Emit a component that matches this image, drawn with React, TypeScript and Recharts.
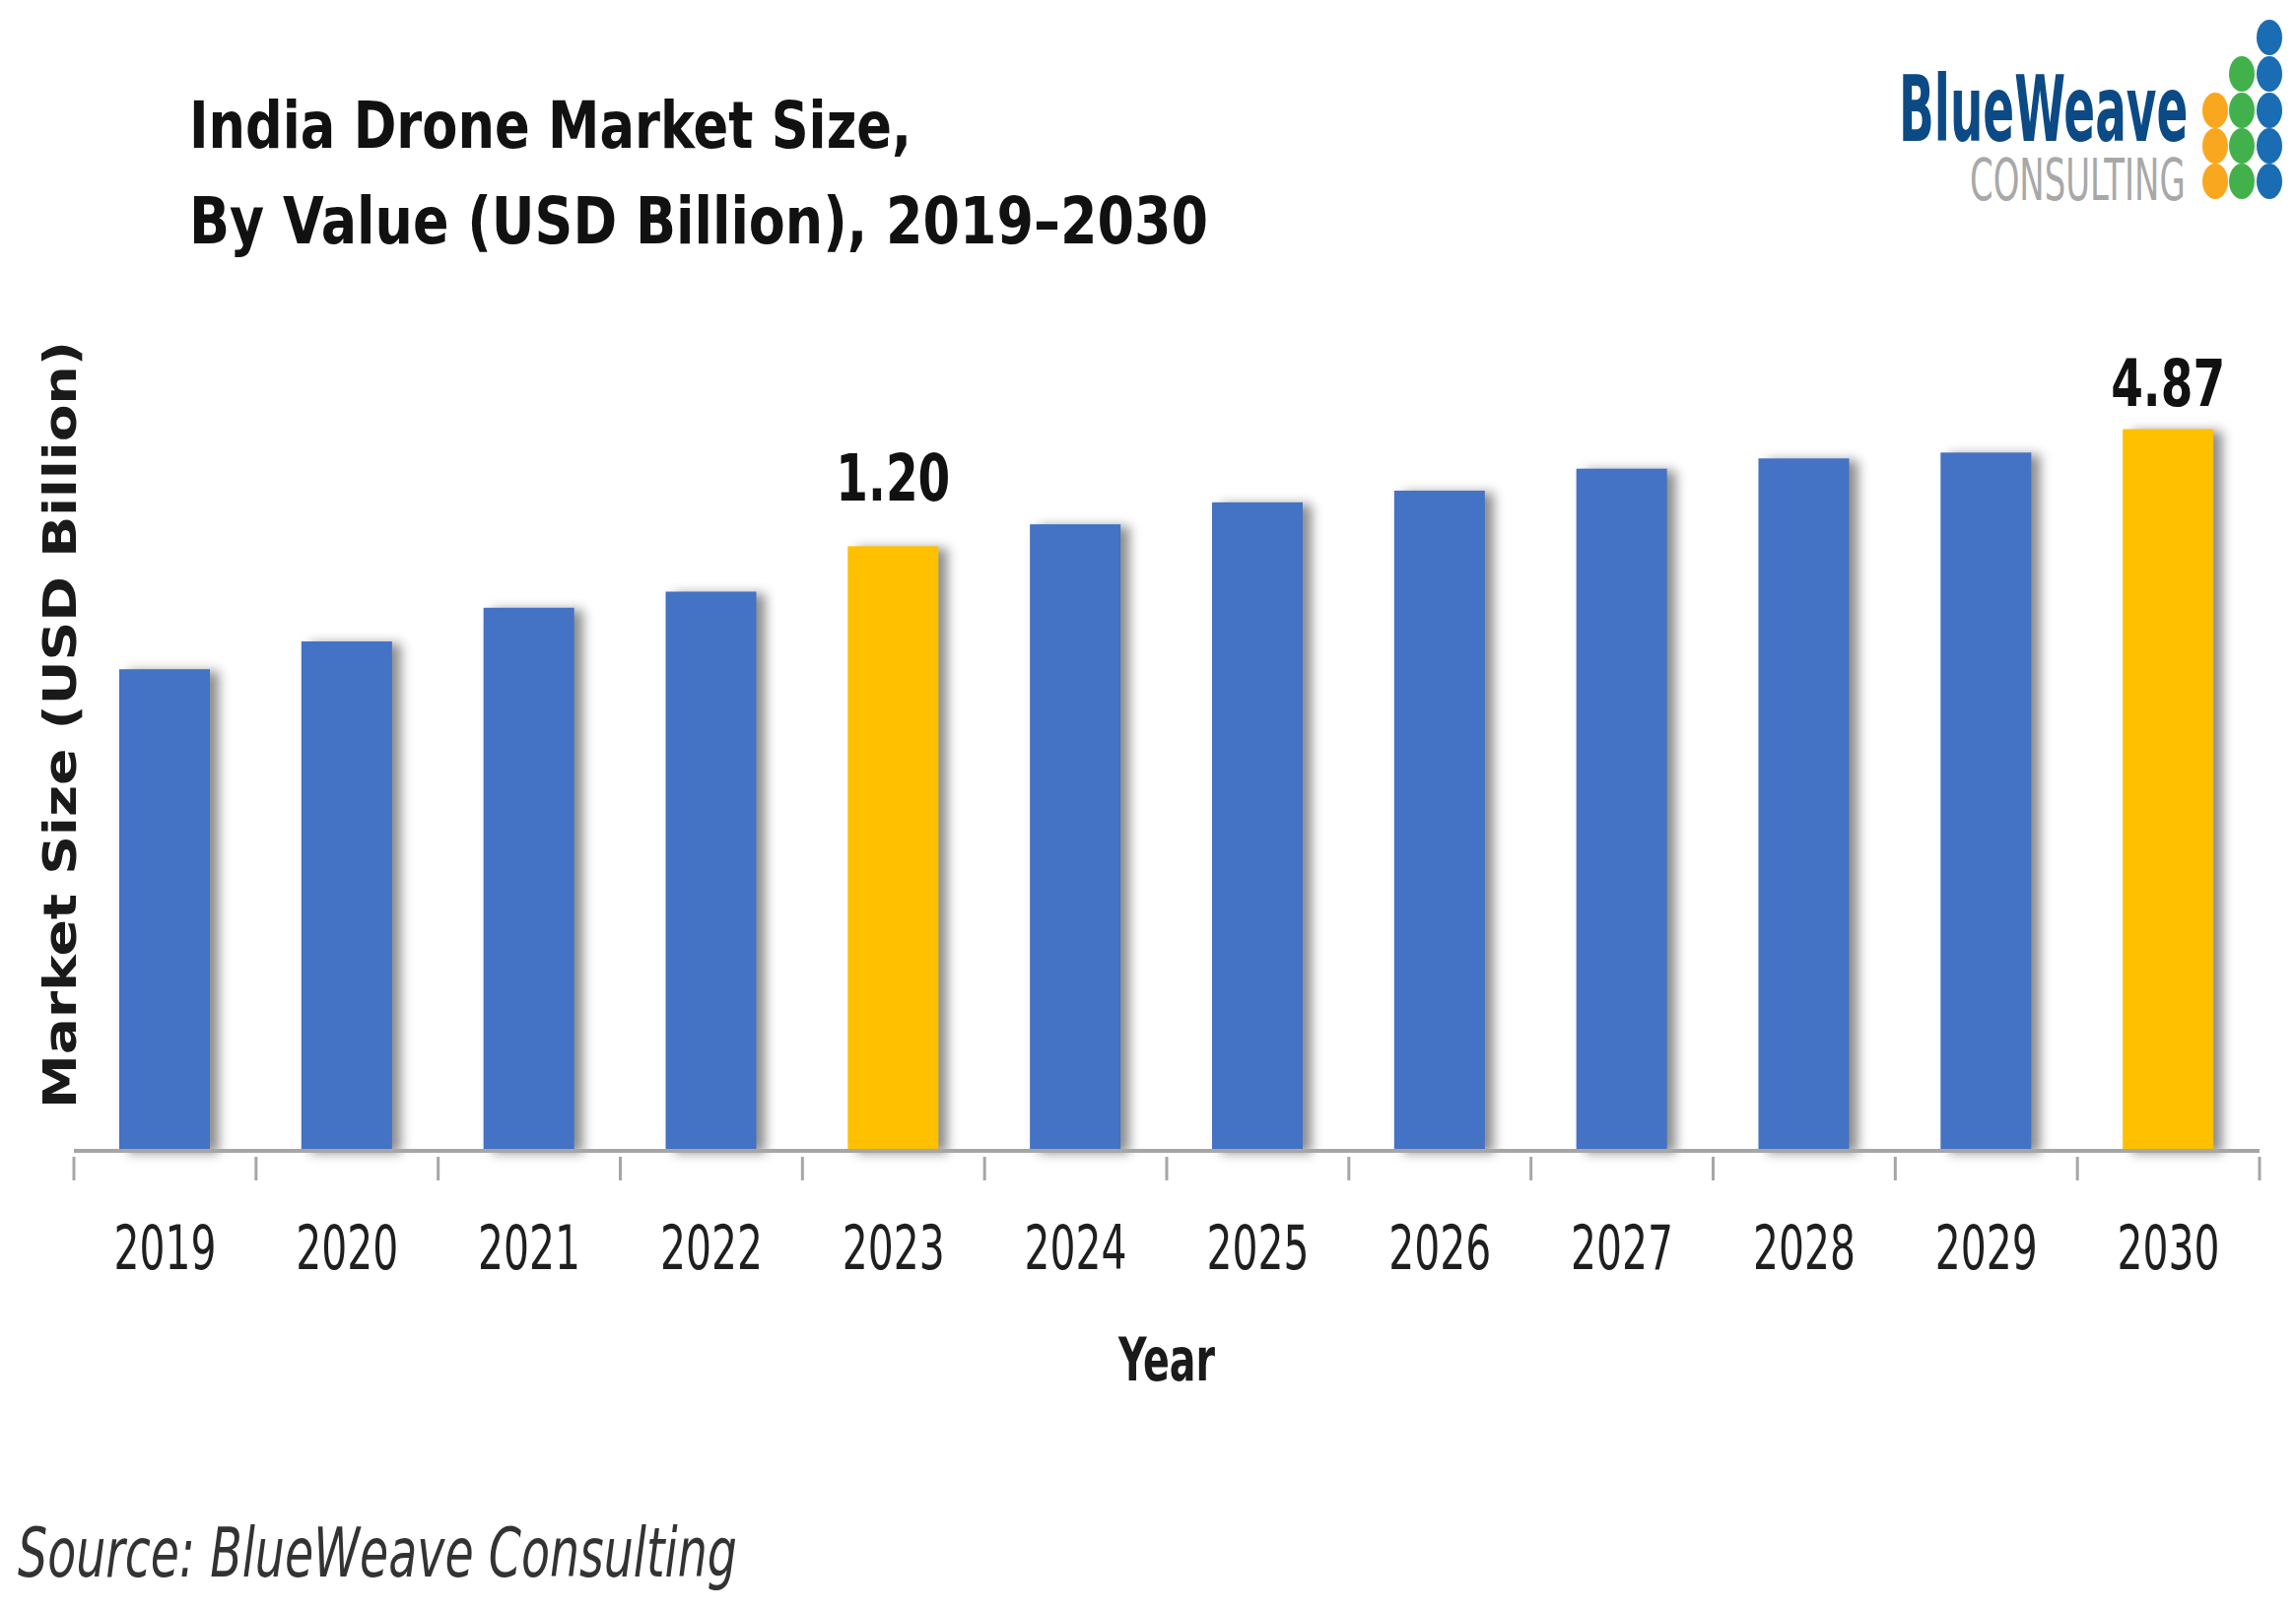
import React from 'react';
import { BarChart, Bar, XAxis, YAxis, LabelList } from 'recharts';

// The bars in the source are not drawn to the scale of their two printed labels,
// so the plotted levels are read from the drawn bar heights and the labels are kept apart.
const years = ['2019', '2020', '2021', '2022', '2023', '2024', '2025', '2026', '2027', '2028', '2029', '2030'];
const drawnLevels = [329, 348, 371, 382, 413, 428, 443, 451, 466, 473, 477, 493];
const printedLabels = ['', '', '', '', '1.20', '', '', '', '', '', '', '4.87'];
const highlightedYears = ['2023', '2030'];

const titleLines = ['India Drone Market Size,', 'By Value (USD Billion), 2019–2030'];
const yTitle = 'Market Size (USD Billion)';
const xTitle = 'Year';
const sourceText = 'Source: BlueWeave Consulting';
const logoName = 'BlueWeave';
const logoSub = 'CONSULTING';

const rows = years.map((year, i) => ({ year, level: drawnLevels[i], label: printedLabels[i] }));

const FONT = '"DejaVu Sans", sans-serif';
const BLUE = '#4472C4';
const GOLD = '#FFC000';
const AXIS = '#A6A6A6';
const PLOT_LEFT = 75;
const PLOT_RIGHT = 2293;
const SLOT = (PLOT_RIGHT - PLOT_LEFT) / years.length;
const LABEL_LIFT: Record<string, number> = { '1.20': 46, '4.87': 24 };

const BarShape = (p: any) => (
  <rect
    x={p.x}
    y={p.y}
    width={p.width}
    height={p.height}
    fill={highlightedYears.includes(p.year) ? GOLD : BLUE}
    style={{ filter: 'drop-shadow(9px 2px 6px rgba(0,0,0,0.45))' }}
  />
);

const YearTick = (p: any) => {
  const { x, y, index, payload } = p;
  const tickTop = y - 8;
  return (
    <g>
      <line x1={x - SLOT / 2} x2={x - SLOT / 2} y1={tickTop} y2={tickTop + 24} stroke={AXIS} strokeWidth={3} />
      {index === years.length - 1 && (
        <line x1={x + SLOT / 2} x2={x + SLOT / 2} y1={tickTop} y2={tickTop + 24} stroke={AXIS} strokeWidth={3} />
      )}
      <text
        x={x}
        y={1288}
        textAnchor="middle"
        fontFamily={FONT}
        fontSize={62}
        fill="#1f1f1f"
        textLength={104}
        lengthAdjust="spacingAndGlyphs"
      >
        {payload.value}
      </text>
    </g>
  );
};

const ValueLabel = (p: any) => {
  const { x, y, width, value } = p;
  if (!value) return null;
  return (
    <text
      x={x + width / 2}
      y={y - LABEL_LIFT[value]}
      textAnchor="middle"
      fontFamily={FONT}
      fontWeight={700}
      fontSize={66}
      fill="#111"
      textLength={116}
      lengthAdjust="spacingAndGlyphs"
    >
      {value}
    </text>
  );
};

const dotColumns = [
  { x: 2248, ys: [112, 148, 184], fill: '#F9A71E' },
  { x: 2275, ys: [75, 112, 148, 184], fill: '#43B14B' },
  { x: 2303, ys: [38, 75, 112, 148, 184], fill: '#1B6DB3' },
];

const Overlay = () => (
  <svg width={2330} height={1635} style={{ position: 'absolute', left: 0, top: 0, pointerEvents: 'none' }}>
    <g fontFamily={FONT} fontWeight={700} fontSize={66} fill="#111">
      <text x={192} y={150} textLength={733} lengthAdjust="spacingAndGlyphs">{titleLines[0]}</text>
      <text x={192} y={247} textLength={1034} lengthAdjust="spacingAndGlyphs">{titleLines[1]}</text>
    </g>
    <text
      transform="translate(77,1125) rotate(-90)"
      fontFamily={FONT}
      fontWeight={700}
      fontSize={46}
      fill="#1a1a1a"
      textLength={779}
      lengthAdjust="spacingAndGlyphs"
    >
      {yTitle}
    </text>
    <text x={1135} y={1401} fontFamily={FONT} fontWeight={700} fontSize={60} fill="#1a1a1a" textLength={98} lengthAdjust="spacingAndGlyphs">
      {xTitle}
    </text>
    <text x={18} y={1600} fontFamily={FONT} fontStyle="italic" fontSize={70} fill="#333" textLength={730} lengthAdjust="spacingAndGlyphs">
      {sourceText}
    </text>
    <text transform="translate(1927,143) scale(0.505,1)" fontFamily={FONT} fontWeight={700} fontSize={93} fill="#0B4A85">
      {logoName}
    </text>
    <text transform="translate(1999,203) scale(0.575,1)" fontFamily={FONT} fontSize={59} fill="#A8A8A8">
      {logoSub}
    </text>
    {dotColumns.map((c) =>
      c.ys.map((y) => <ellipse key={`${c.x}-${y}`} cx={c.x} cy={y} rx={13} ry={18} fill={c.fill} />)
    )}
  </svg>
);

export default function App() {
  return (
    <div style={{ position: 'absolute', left: 0, top: 0, width: 2330, height: 1635, background: '#fff', overflow: 'hidden' }}>
      <BarChart
        width={2330}
        height={1635}
        data={rows}
        margin={{ top: 128, right: 2330 - PLOT_RIGHT, bottom: 217, left: PLOT_LEFT }}
        barCategoryGap="50%"
      >
        <XAxis
          dataKey="year"
          height={250}
          interval={0}
          tickLine={false}
          tickMargin={8}
          axisLine={{ stroke: AXIS, strokeWidth: 4 }}
          tick={<YearTick />}
        />
        <YAxis hide domain={[0, 700]} />
        <Bar dataKey="level" barSize={92} isAnimationActive={false} shape={<BarShape />}>
          <LabelList dataKey="label" content={<ValueLabel />} />
        </Bar>
      </BarChart>
      <Overlay />
    </div>
  );
}
